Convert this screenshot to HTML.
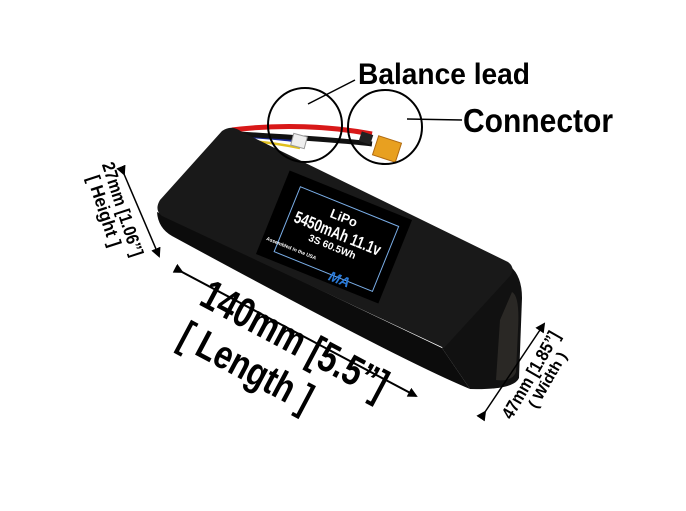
<!DOCTYPE html>
<html><head><meta charset="utf-8"><style>
html,body{margin:0;padding:0;background:#fff;width:686px;height:511px;overflow:hidden}
svg{display:block}
.t{font-family:"Liberation Sans",sans-serif;font-weight:bold;fill:#000}
</style></head><body>
<svg width="686" height="511" viewBox="0 0 686 511" xmlns="http://www.w3.org/2000/svg">
<defs>
<marker id="ah" markerWidth="10" markerHeight="10" refX="8" refY="5" orient="auto" markerUnits="userSpaceOnUse">
<path d="M0,0 L10,5 L0,10 z" fill="#000"/></marker>
</defs>
<!-- wires -->
<path d="M232,130 C280,124 330,126 372,134" stroke="#d81818" stroke-width="5" fill="none"/>
<path d="M236,136 C270,138 300,140 300,144" stroke="#1a2a9a" stroke-width="2.5" fill="none"/>
<path d="M238,140 C270,142 290,146 300,148" stroke="#e0c020" stroke-width="2.5" fill="none"/>
<path d="M240,134 C300,138 340,140 372,144" stroke="#111" stroke-width="5" fill="none"/>
<rect x="292" y="135" width="14" height="12" fill="#eee" stroke="#999" stroke-width="1" transform="rotate(15 299 141)"/>
<rect x="360" y="133" width="12" height="10" fill="#222" transform="rotate(18 366 138)"/>
<rect x="375" y="139" width="24" height="20" fill="#e8a020" stroke="#b06a10" transform="rotate(18 387 149)"/>
<!-- front face -->
<path d="M157,212 L442,348 L470,389 Q400,360 172,236 Q158,228 157,212 Z" fill="#0c0c0c"/>
<!-- right end face -->
<path d="M510,266 Q522,276 522,298 L519,378 Q514,390 470,389 L442,348 Z" fill="#111"/>
<path d="M512,292 Q520,296 518,330 L516,372 Q512,382 496,380 L500,320 Z" fill="#2a2825"/>
<!-- top face -->
<path d="M222,131 Q232,124 242,132 L508,262 Q516,268 510,276 L444,348 L162,216 Q154,210 160,200 Z" fill="#191919"/>
<!-- label -->
<g transform="translate(334,237) rotate(22)">
<rect x="-66" y="-45" width="132" height="90" fill="#000"/>
<rect x="-50" y="-34" width="106" height="70" fill="none" stroke="#7aaee8" stroke-width="1"/>
<text class="t" x="2" y="-17" text-anchor="middle" font-size="13" style="fill:#fff">LiPo</text>
<text class="t" x="2" y="1" text-anchor="middle" font-size="17" textLength="92" lengthAdjust="spacingAndGlyphs" style="fill:#fff">5450mAh 11.1v</text>
<text class="t" x="2" y="13" text-anchor="middle" font-size="10" style="fill:#fff">3S 60.5Wh</text>
<text class="t" x="-62" y="28" font-size="5" style="fill:#fff">Assembled in the USA</text>
<text class="t" x="10" y="42" font-size="14" style="fill:#2a7ad8;font-style:italic">MA</text>
</g>
<!-- circles & leaders -->
<circle cx="305" cy="125" r="37" fill="none" stroke="#000" stroke-width="2"/>
<circle cx="385" cy="127" r="37" fill="none" stroke="#000" stroke-width="2"/>
<line x1="308" y1="104" x2="355" y2="80" stroke="#000" stroke-width="1.5"/>
<line x1="407" y1="119" x2="462" y2="120" stroke="#000" stroke-width="1.5"/>
<text class="t" x="358" y="84" font-size="30" textLength="172" lengthAdjust="spacingAndGlyphs">Balance lead</text>
<text class="t" x="463" y="132" font-size="33" textLength="150" lengthAdjust="spacingAndGlyphs">Connector</text>
<!-- length -->
<line x1="182" y1="272" x2="416" y2="396" stroke="#000" stroke-width="2" marker-end="url(#ah)" marker-start="url(#ah)"/>
<g transform="translate(288,352) rotate(28)">
<text class="t" x="0" y="0" text-anchor="middle" font-size="42" textLength="205" lengthAdjust="spacingAndGlyphs">140mm [5.5”]</text>
<text class="t" x="-30" y="46" text-anchor="middle" font-size="40" textLength="145" lengthAdjust="spacingAndGlyphs">[ Length ]</text>
</g>
<!-- height -->
<line x1="124" y1="174" x2="159" y2="256" stroke="#000" stroke-width="1.5" marker-end="url(#ah)" marker-start="url(#ah)"/>
<g transform="translate(114,212) rotate(72)">
<text class="t" x="0" y="-3" text-anchor="middle" font-size="18" textLength="98" lengthAdjust="spacingAndGlyphs">27mm [1.06”]</text>
<text class="t" x="-4" y="15" text-anchor="middle" font-size="18" textLength="74" lengthAdjust="spacingAndGlyphs">[ Height ]</text>
</g>
<!-- width -->
<line x1="485" y1="412" x2="544" y2="324" stroke="#000" stroke-width="1.5" marker-end="url(#ah)" marker-start="url(#ah)"/>
<g transform="translate(536,378) rotate(-60)">
<text class="t" x="0" y="0" text-anchor="middle" font-size="18" textLength="98" lengthAdjust="spacingAndGlyphs">47mm [1.85”]</text>
<text class="t" x="4" y="16" text-anchor="middle" font-size="15" textLength="62" lengthAdjust="spacingAndGlyphs">( Width )</text>
</g>
</svg>
</body></html>
